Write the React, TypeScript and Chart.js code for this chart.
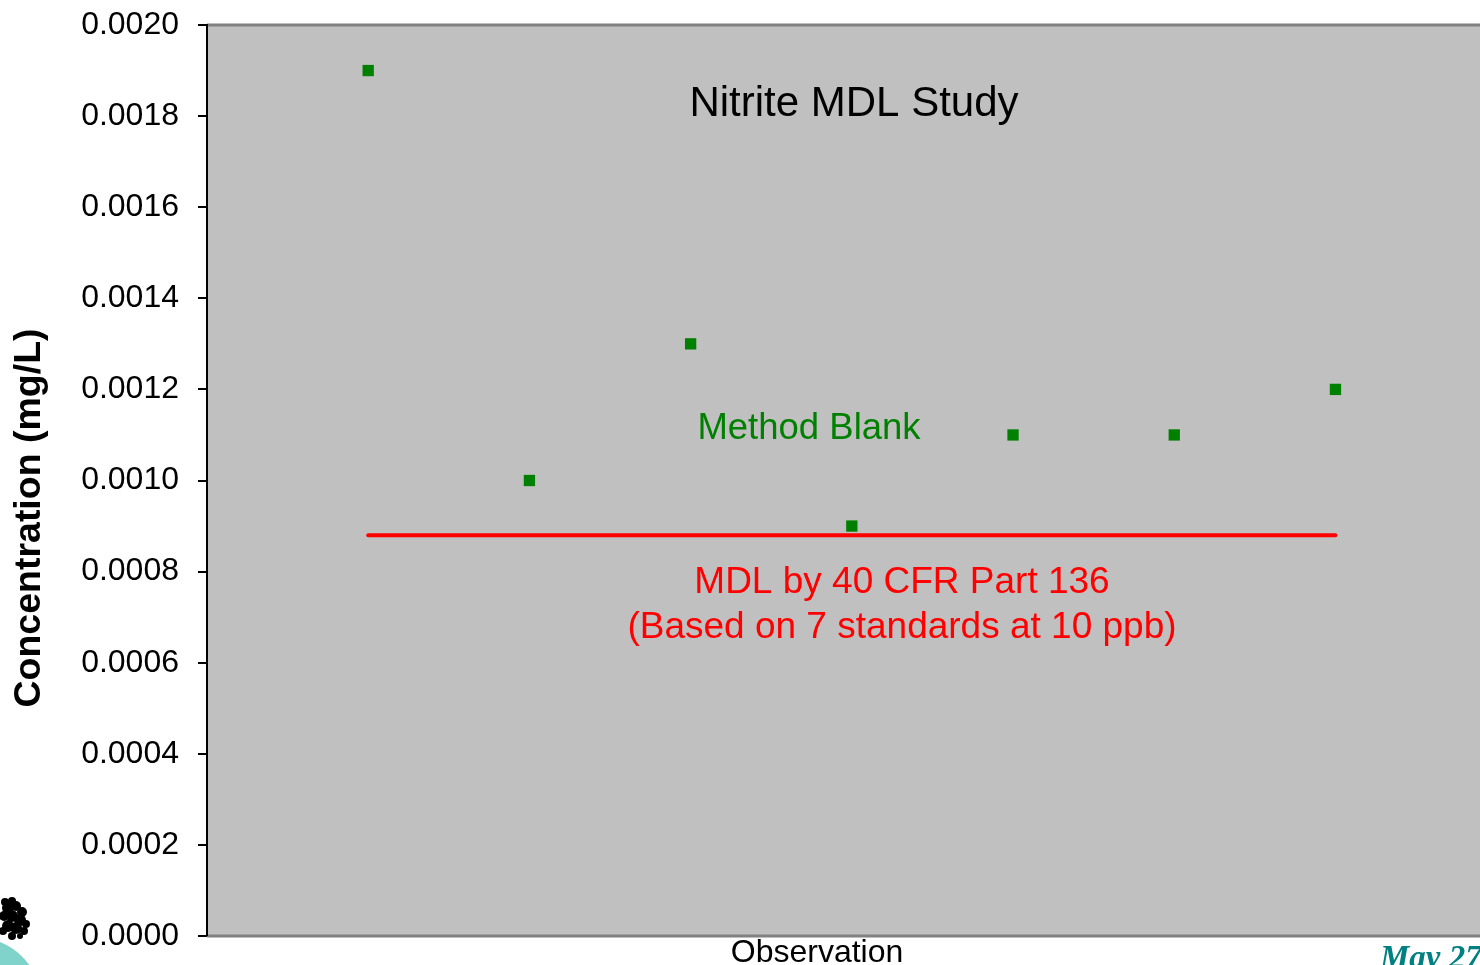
import React, { useEffect, useRef } from "react";
import { Chart, registerables } from "chart.js";

Chart.register(...registerables);

const observations = [1, 2, 3, 4, 5, 6, 7];
const blankValues = [0.0019, 0.001, 0.0013, 0.0009, 0.0011, 0.0011, 0.0012];
const mdlValue = 0.00088;
const yTicks = [0, 0.0002, 0.0004, 0.0006, 0.0008, 0.001, 0.0012, 0.0014, 0.0016, 0.0018, 0.002];

const SANS = "'Liberation Sans', Arial, sans-serif";

const decorPlugin = {
  id: "decor",
  beforeDraw(chart: any) {
    const { ctx, chartArea } = chart;
    ctx.save();
    ctx.fillStyle = "#C0C0C0";
    ctx.fillRect(chartArea.left, chartArea.top, chart.width - chartArea.left, chartArea.bottom - chartArea.top);
    ctx.restore();
  },
  afterDraw(chart: any) {
    const { ctx, chartArea } = chart;
    ctx.save();
    ctx.strokeStyle = "#808080";
    ctx.lineWidth = 3;
    ctx.beginPath();
    ctx.moveTo(chartArea.left, chartArea.top);
    ctx.lineTo(chart.width, chartArea.top);
    ctx.moveTo(chartArea.left, chartArea.bottom);
    ctx.lineTo(chart.width, chartArea.bottom);
    ctx.stroke();
    ctx.strokeStyle = "#000000";
    ctx.lineWidth = 2;
    ctx.beginPath();
    ctx.moveTo(chartArea.left, chartArea.top - 1);
    ctx.lineTo(chartArea.left, chartArea.bottom);
    ctx.stroke();

    ctx.textAlign = "center";
    ctx.textBaseline = "middle";
    ctx.fillStyle = "#000000";
    ctx.font = `42px ${SANS}`;
    ctx.fillText("Nitrite MDL Study", 854, 104);

    ctx.fillStyle = "#008000";
    ctx.font = `36.5px ${SANS}`;
    ctx.fillText("Method Blank", 809, 429);

    ctx.fillStyle = "#FF0000";
    ctx.font = `37px ${SANS}`;
    ctx.fillText("MDL by 40 CFR Part 136", 902, 583);
    ctx.fillText("(Based on 7 standards at 10 ppb)", 902, 628);

    ctx.fillStyle = "#000000";
    ctx.font = `32px ${SANS}`;
    ctx.fillText("Observation", 817, 953);

    ctx.save();
    ctx.translate(30, 518);
    ctx.rotate(-Math.PI / 2);
    ctx.font = `bold 37.5px ${SANS}`;
    ctx.fillText("Concentration (mg/L)", 0, 0);
    ctx.restore();

    ctx.fillStyle = "#008080";
    ctx.textAlign = "left";
    ctx.textBaseline = "alphabetic";
    ctx.font = `italic bold 33px 'Liberation Serif', 'Times New Roman', serif`;
    ctx.fillText("May 27", 1380, 968);

    ctx.fillStyle = "#7FD3CB";
    ctx.beginPath();
    ctx.arc(-22, 1000, 62, 0, Math.PI * 2);
    ctx.fill();
    ctx.fillStyle = "#000000";
    const blobs = [
      [5, 902, 4], [12, 901, 4], [8, 908, 6], [16, 906, 5], [22, 912, 5], [4, 916, 5],
      [12, 916, 6], [20, 920, 6], [26, 924, 4], [8, 926, 6], [16, 928, 6], [24, 931, 4],
      [3, 931, 4], [12, 936, 4], [20, 936, 3],
    ];
    for (const b of blobs) {
      ctx.beginPath();
      ctx.arc(b[0], b[1], b[2], 0, Math.PI * 2);
      ctx.fill();
    }
    ctx.restore();
  },
};

export default function App() {
  const ref = useRef<HTMLCanvasElement>(null);
  useEffect(() => {
    if (!ref.current) return;
    const chart = new Chart(ref.current, {
      type: "scatter",
      data: {
        datasets: [
          {
            label: "MDL",
            data: [
              { x: observations[0], y: mdlValue },
              { x: observations[observations.length - 1], y: mdlValue },
            ],
            showLine: true,
            borderColor: "#FF0000",
            borderWidth: 4,
            borderCapStyle: "round",
            pointRadius: 0,
            order: 2,
          },
          {
            label: "Method Blank",
            data: observations.map((x, i) => ({ x, y: blankValues[i] })),
            pointStyle: "rect",
            pointRadius: 8,
            pointBackgroundColor: "#008000",
            pointBorderColor: "#008000",
            pointBorderWidth: 0,
            showLine: false,
            order: 1,
          },
        ],
      },
      options: {
        responsive: false,
        animation: false,
        layout: { padding: { top: 25, left: 0, right: 0, bottom: 0 } },
        plugins: { legend: { display: false }, tooltip: { enabled: false } },
        scales: {
          x: {
            type: "linear",
            min: 0,
            max: 7.847,
            ticks: { display: false },
            grid: { display: false, drawTicks: false },
            border: { display: false },
            afterFit: (s: any) => {
              s.height = 29;
              s.paddingLeft = 0;
              s.paddingRight = 0;
              s.paddingTop = 0;
              s.paddingBottom = 0;
            },
          },
          y: {
            type: "linear",
            min: 0,
            max: 0.002,
            afterBuildTicks: (s: any) => {
              s.ticks = yTicks.map((v) => ({ value: v }));
            },
            ticks: {
              color: "#000000",
              font: { family: SANS, size: 32 },
              padding: 19,
              callback: (v: any) => Number(v).toFixed(4),
            },
            grid: { drawOnChartArea: false, drawTicks: true, tickLength: 9, tickColor: "#000000", lineWidth: 2 },
            border: { display: true, color: "#000000", width: 2 },
            afterFit: (s: any) => {
              s.width = 207;
              s.paddingLeft = 0;
              s.paddingRight = 0;
              s.paddingTop = 0;
              s.paddingBottom = 0;
            },
          },
        },
      },
      plugins: [decorPlugin],
    } as any);
    return () => chart.destroy();
  }, []);
  return (
    <div style={{ position: "fixed", left: 0, top: 0, width: 1480, height: 965, background: "#fff" }}>
      <canvas ref={ref} width={1480} height={965} style={{ display: "block" }} />
    </div>
  );
}
